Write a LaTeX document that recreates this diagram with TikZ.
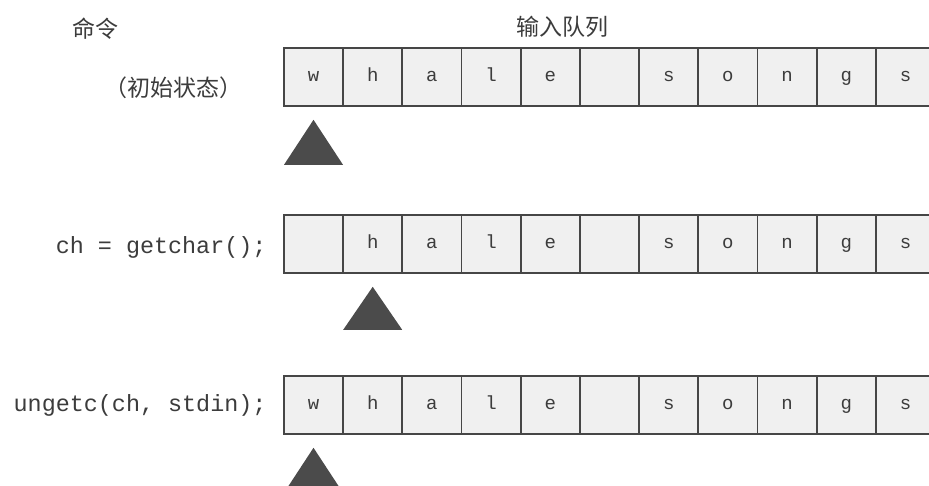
\documentclass[tikz,border=0pt]{standalone}
\usepackage{fontspec}
\setmonofont{Liberation Mono}
\newfontfamily\cjk{Noto Sans CJK SC}
\definecolor{cellfill}{RGB}{240,240,240}
\definecolor{celldraw}{RGB}{70,70,70}
\definecolor{tri}{RGB}{75,75,75}
\definecolor{txt}{RGB}{60,60,60}
\begin{document}
\begin{tikzpicture}[x=1pt,y=-1pt,
  cell/.style={draw=celldraw,line width=1.8pt,fill=cellfill,minimum width=59.2pt,minimum height=58pt,inner sep=0pt,anchor=north west,font=\ttfamily\fontsize{19}{19}\selectfont,text=txt,text height=9pt,text depth=0pt},
  cmd/.style={font=\ttfamily\fontsize{23.4}{23.4}\selectfont,text=txt,anchor=east},
  cn/.style={font=\cjk\fontsize{23}{23}\selectfont,text=txt},
  pointer/.style={fill=tri,draw=none}]
\useasboundingbox (0,0) rectangle (929,485);
\clip (0,0) rectangle (929,485);
\fill[white] (0,0) rectangle (929,485);
\node[cn] (hdrcmd) at (95,29) {命令};
\node[cn] (hdrq) at (562,27) {输入队列};
\node[cn] (s0) at (173,88) {（初始状态）};
\node[cmd] (s1) at (270,247) {ch = getchar();};
\node[cmd] (s2) at (270,405) {ungetc(ch, stdin);};
\foreach \c [count=\i from 0] in {w,h,a,l,e,{},s,o,n,g,s}
  \node[cell] (a\i) at (283+59.2*\i,47) {\c};
\foreach \c [count=\i from 0] in {{},h,a,l,e,{},s,o,n,g,s}
  \node[cell] (b\i) at (283+59.2*\i,214) {\c};
\foreach \c [count=\i from 0] in {w,h,a,l,e,{},s,o,n,g,s}
  \node[cell] (c\i) at (283+59.2*\i,375) {\c};
\coordinate (pa) at ([yshift=-13pt]a0.south);
\coordinate (pb) at ([yshift=-13pt]b1.south);
\coordinate (pc) at ([yshift=-13pt]c0.south);
\fill[pointer] (pa) -- ++(29.5,45) -- ++(-59,0) -- cycle;
\fill[pointer] (pb) -- ++(29.5,43) -- ++(-59,0) -- cycle;
\fill[pointer] (pc) -- ++(29.5,45) -- ++(-59,0) -- cycle;
\end{tikzpicture}
\end{document}
